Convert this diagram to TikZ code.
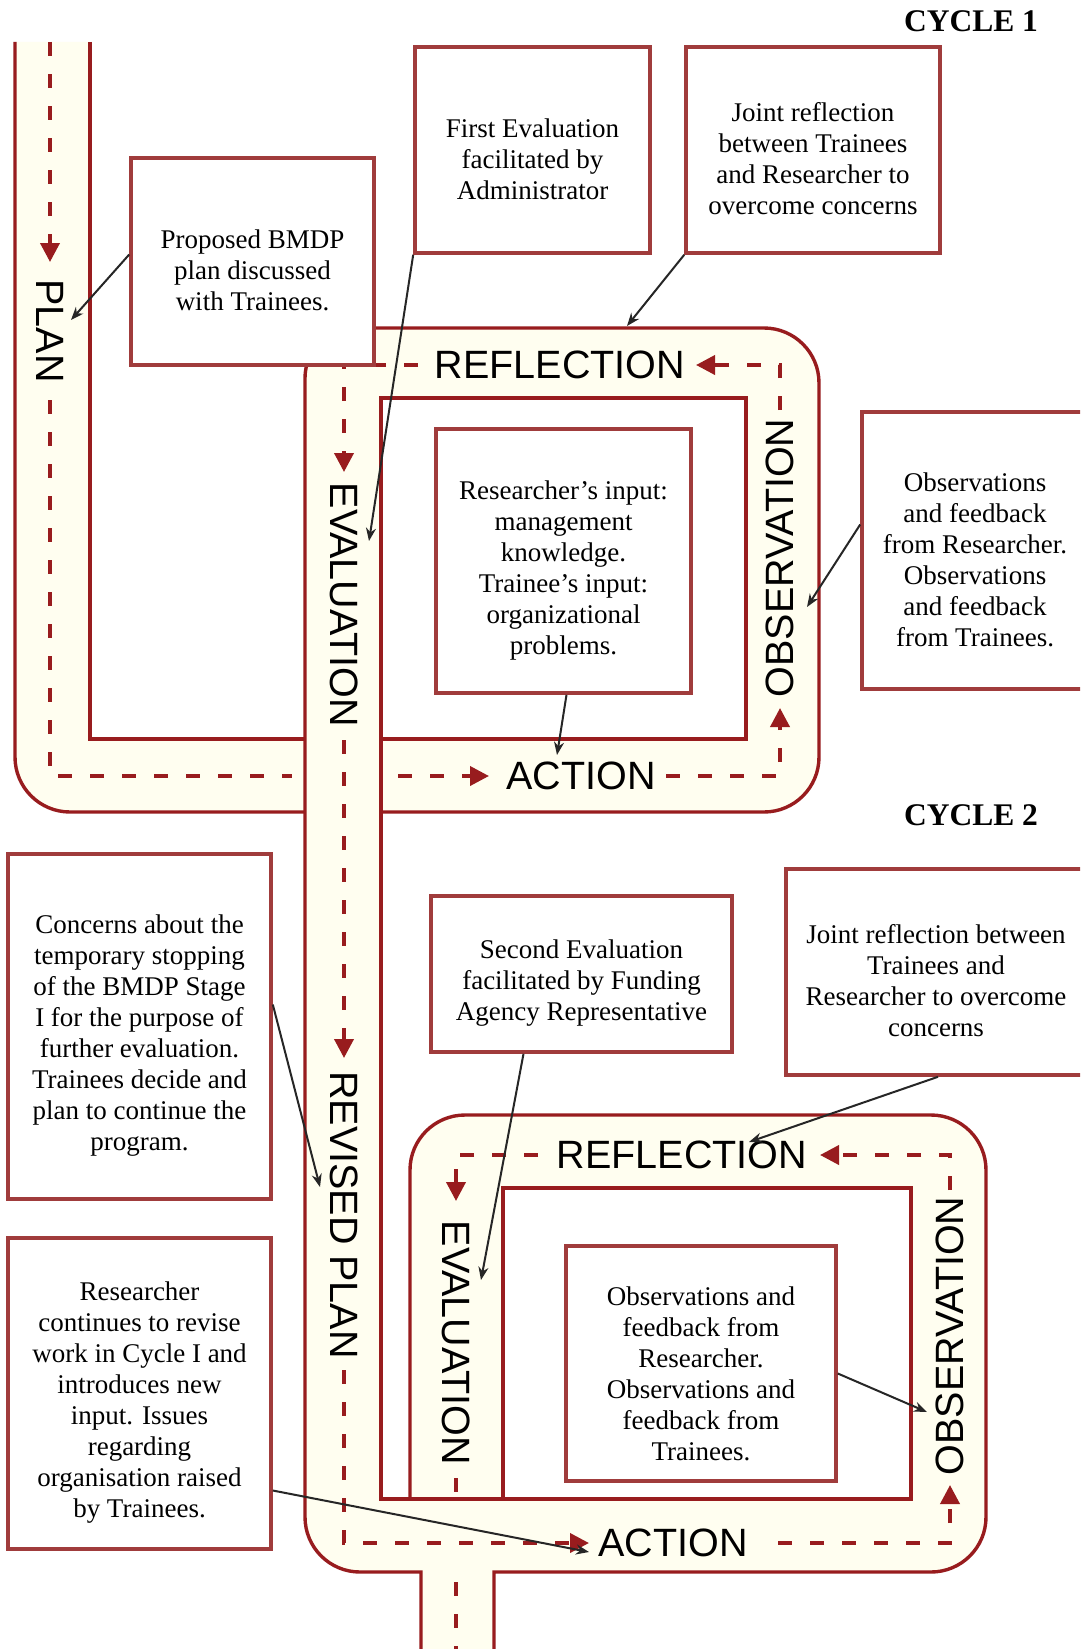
\documentclass[tikz,border=0pt]{standalone}
\usepackage{fontspec}
\setmainfont{Liberation Serif}
\newfontfamily\labelfont{Liberation Sans}
\usetikzlibrary{arrows.meta}
\definecolor{loopred}{RGB}{152,28,30}
\definecolor{boxred}{RGB}{160,60,60}
\definecolor{roadcream}{RGB}{255,254,240}
\definecolor{connink}{RGB}{38,38,38}
\begin{document}
\begin{tikzpicture}[x=1bp,y=-1bp,
  roadline/.style={draw=loopred,line width=3.4bp},
  flowline/.style={draw=loopred,line width=3.8bp,dash pattern=on 14bp off 18bp},
  flowtip/.style={-{Triangle[length=19bp,width=19bp]}},
  textbox/.style={draw=boxred,line width=3.6bp,fill=white,inner sep=0pt},
  boxtext/.style={inner sep=0pt,align=center,font=\fontsize{27bp}{31bp}\selectfont},
  roadlabel/.style={inner sep=0pt,font=\labelfont\fontsize{39.5bp}{40bp}\selectfont},
  cyclelabel/.style={inner sep=0pt,font=\bfseries\fontsize{31.5bp}{32bp}\selectfont},
  connector/.style={draw=connink,line width=2bp,-{Stealth[length=13bp,width=10bp]}}
]
\clip (0,0) rectangle (1080,1649);
\fill[white] (0,0) rectangle (1080,1649);

% ---------- fills ----------
\fill[roadcream] (15,42) -- (15,757) .. controls (15,787.4) and (39.6,812) .. (70,812)
  -- (764,812) .. controls (794.4,812) and (819,787.4) .. (819,757)
  -- (819,383) .. controls (819,352.6) and (794.4,328) .. (764,328)
  -- (355,328) .. controls (327.4,328) and (305,350.4) .. (305,378)
  -- (305,739) -- (90,739) -- (90,42) -- cycle;
\fill[white] (381,398) rectangle (746,739);
\fill[roadcream] (305,739) rectangle (381,1520);
\fill[roadcream] (305,1480) -- (305,1517) .. controls (305,1547.4) and (329.6,1572) .. (360,1572)
  -- (931,1572) .. controls (961.4,1572) and (986,1547.4) .. (986,1517)
  -- (986,1170) .. controls (986,1139.6) and (961.4,1115) .. (931,1115)
  -- (465,1115) .. controls (434.6,1115) and (410,1139.6) .. (410,1170)
  -- (410,1499) -- (381,1499) -- (381,1480) -- cycle;
\fill[white] (503,1188) rectangle (911,1499);
\fill[roadcream] (421,1560) rectangle (494,1649);

% ---------- road borders ----------
\draw[roadline] (15,42) -- (15,757) .. controls (15,787.4) and (39.6,812) .. (70,812) -- (305,812);
\draw[roadline] (381,812) -- (764,812) .. controls (794.4,812) and (819,787.4) .. (819,757)
  -- (819,383) .. controls (819,352.6) and (794.4,328) .. (764,328)
  -- (355,328) .. controls (327.4,328) and (305,350.4) .. (305,378)
  -- (305,1517) .. controls (305,1547.4) and (329.6,1572) .. (360,1572)
  -- (421,1572) -- (421,1649);
\draw[roadline] (494,1649) -- (494,1572) -- (931,1572) .. controls (961.4,1572) and (986,1547.4) .. (986,1517)
  -- (986,1170) .. controls (986,1139.6) and (961.4,1115) .. (931,1115)
  -- (465,1115) .. controls (434.6,1115) and (410,1139.6) .. (410,1170) -- (410,1499);
\draw[roadline] (90,42) -- (90,739) -- (305,739);
\draw[roadline] (381,739) -- (746,739) -- (746,398) -- (381,398) -- (381,1499) -- (911,1499)
  -- (911,1188) -- (503,1188) -- (503,1499);

% ---------- flow lines ----------
\draw[flowline,flowtip] (50,42) -- (50,262);
\draw[flowline] (50,400) -- (50,776) -- (292,776);
\draw[flowline,flowtip] (398,776) -- (489,776);
\draw[flowline,flowtip] (666,776) -- (780,776) -- (780,708);
\draw[flowline,flowtip] (780,410) -- (780,365) -- (696,365);
\draw[flowline,flowtip] (418,365) -- (344,365) -- (344,472);
\draw[flowline,flowtip] (344,740) -- (344,1058);
\draw[flowline,flowtip] (344,1370) -- (344,1543) -- (589,1543);
\draw[flowline,flowtip] (778,1543) -- (950,1543) -- (950,1485);
\draw[flowline,flowtip] (950,1190) -- (950,1155) -- (820,1155);
\draw[flowline,flowtip] (538,1155) -- (456,1155) -- (456,1201);
\draw[flowline] (456,1478) -- (456,1499);
\draw[flowline] (456,1582) -- (456,1649);

% ---------- road labels ----------
\node[roadlabel,rotate=-90] (lplan) at (50,331) {PLAN};
\node[roadlabel] (lact1) at (581,776) {ACTION};
\node[roadlabel,rotate=90] (lobs1) at (780,558) {OBSERVATION};
\node[roadlabel] (lref1) at (560,365) {REFLECTION};
\node[roadlabel,rotate=-90] (leva1) at (344,605) {EVALUATION};
\node[roadlabel,rotate=-90] (lrev) at (344,1215) {REVISED PLAN};
\node[roadlabel] (lact2) at (673,1543) {ACTION};
\node[roadlabel,rotate=90] (lobs2) at (950,1336) {OBSERVATION};
\node[roadlabel] (lref2) at (682,1155) {REFLECTION};
\node[roadlabel,rotate=-90] (leva2) at (456,1343) {EVALUATION};

\node[cyclelabel] (c1) at (971,21) {CYCLE 1};
\node[cyclelabel] (c2) at (971,815) {CYCLE 2};

% ---------- text boxes ----------
\node[textbox,minimum width=243bp,minimum height=207bp] (prop) at (252.5,261.5) {};
\node[boxtext] (propt) at ([yshift=-9bp]prop.center) {Proposed BMDP\\plan discussed\\with Trainees.};
\node[textbox,minimum width=235bp,minimum height=206bp] (feval) at (532.5,150) {};
\node[boxtext] (fevalt) at ([yshift=-9bp]feval.center) {First Evaluation\\facilitated by\\Administrator};
\node[textbox,minimum width=254bp,minimum height=206bp] (jr1) at (813,150) {};
\node[boxtext] (jr1t) at ([yshift=-9bp]jr1.center) {Joint reflection\\between Trainees\\and Researcher to\\overcome concerns};
\node[textbox,minimum width=255bp,minimum height=264bp] (rin) at (563.5,561) {};
\node[boxtext] (rint) at ([yshift=-9bp]rin.center) {Researcher’s input:\\management\\knowledge.\\Trainee’s input:\\organizational\\problems.};
\node[textbox,minimum width=228bp,minimum height=277bp] (obs1) at (976,550.5) {};
\node[boxtext] (obs1t) at ([xshift=-1bp,yshift=-9bp]obs1.center) {Observations\\and feedback\\from Researcher.\\Observations\\and feedback\\from Trainees.};
\node[textbox,minimum width=263bp,minimum height=345bp] (conc) at (139.5,1026.5) {};
\node[boxtext] (conct) at ([yshift=-9bp]conc.center) {Concerns about the\\temporary stopping\\of the BMDP Stage\\I for the purpose of\\further evaluation.\\Trainees decide and\\plan to continue the\\program.};
\node[textbox,minimum width=263bp,minimum height=311bp] (rcont) at (139.5,1393.5) {};
\node[boxtext] (rcontt) at ([yshift=-9bp]rcont.center) {Researcher\\continues to revise\\work in Cycle I and\\introduces new\\input. Issues\\regarding\\organisation raised\\by Trainees.};
\node[textbox,minimum width=301bp,minimum height=156bp] (seval) at (581.5,974) {};
\node[boxtext] (sevalt) at ([yshift=-9bp]seval.center) {Second Evaluation\\facilitated by Funding\\Agency Representative};
\node[textbox,minimum width=304bp,minimum height=206bp] (jr2) at (938,972) {};
\node[boxtext] (jr2t) at ([xshift=-2bp,yshift=-9bp]jr2.center) {Joint reflection between\\Trainees and\\Researcher to overcome\\concerns};
\node[textbox,minimum width=270bp,minimum height=235bp] (obs2) at (701,1363.5) {};
\node[boxtext] (obs2t) at ([yshift=-10bp]obs2.center) {Observations and\\feedback from\\Researcher.\\Observations and\\feedback from\\Trainees.};

% ---------- connectors ----------
\coordinate (tplan) at (71,320);
\coordinate (teva1) at (369,541);
\coordinate (tref1) at (627,326);
\coordinate (tact1) at (557,755);
\coordinate (tobs1) at (807,607);
\coordinate (trev) at (320,1187);
\coordinate (teva2) at (481,1280);
\coordinate (tref2) at (749,1142);
\coordinate (tobs2) at (927,1412);
\coordinate (tact2) at (589,1552);
\draw[connector] ([yshift=7bp]prop.west) -- (tplan);
\draw[connector] (feval.south west) -- (teva1);
\draw[connector] (jr1.south west) -- (tref1);
\draw[connector] ([xshift=3bp]rin.south) -- (tact1);
\draw[connector] ([yshift=26bp]obs1.west) -- (tobs1);
\draw[connector] ([yshift=22bp]conc.east) -- (trev);
\draw[connector] ([xshift=-58bp]seval.south) -- (teva2);
\draw[connector] (jr2.south) -- (tref2);
\draw[connector] ([yshift=-10bp]obs2.east) -- (tobs2);
\draw[connector] ([yshift=-97bp]rcont.east) -- (tact2);
\end{tikzpicture}
\end{document}
